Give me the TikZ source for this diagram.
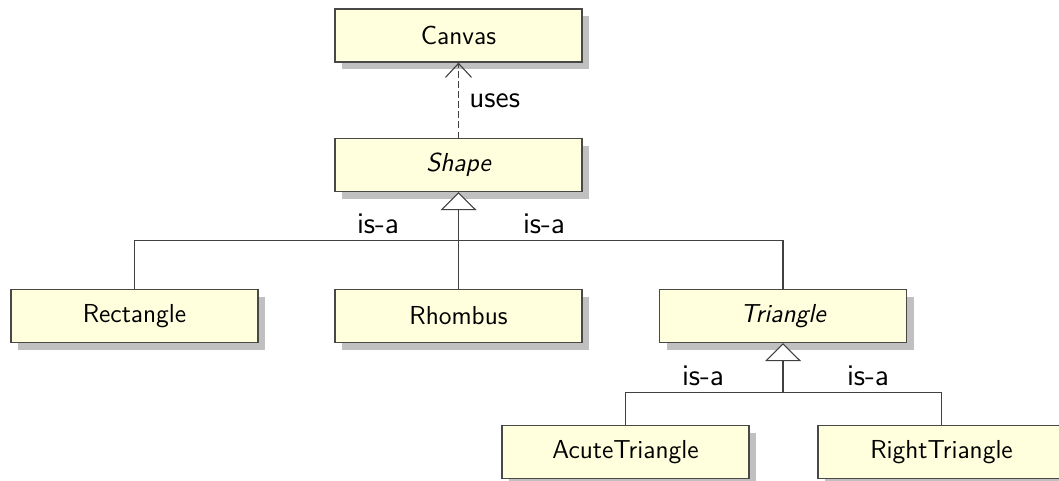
\documentclass[tikz,border=0pt]{standalone}
\usetikzlibrary{arrows.meta,shadows,calc}
\definecolor{boxfill}{RGB}{255,255,222}
\definecolor{boxline}{RGB}{72,72,72}
\definecolor{shadowgray}{RGB}{192,192,192}
\definecolor{linecol}{RGB}{64,64,64}
\begin{document}
\begin{tikzpicture}[x=0.5pt,y=-0.5pt,
  classbox/.style={draw=boxline, fill=boxfill, line width=0.6pt,
    minimum width=123.5pt, minimum height=26.5pt, inner sep=0pt,
    font=\fontsize{13}{15.6}\selectfont\sffamily,
    drop shadow={shadow xshift=3.5pt, shadow yshift=-3.5pt, fill=shadowgray, opacity=1}},
  lbl/.style={font=\fontsize{15}{18}\selectfont\sffamily, inner sep=0pt, anchor=base},
  conn/.style={draw=linecol, line width=0.55pt},
  inherit/.style={conn, -{Triangle[open, length=9pt, width=18pt, fill=white]}},
  usesarrow/.style={conn, dash pattern=on 3.2pt off 1.8pt, -{Straight Barb[length=7pt, width=13pt]}}
]
\useasboundingbox (0,0) rectangle (1059,481);
\node[classbox] (canvas) at (458.5,35.5) {Canvas};
\node[classbox] (shape) at (458.5,165) {\itshape Shape};
\node[classbox] (rect) at (134.5,316) {Rectangle};
\node[classbox] (rhombus) at (458.5,316) {Rhombus};
\node[classbox] (tri) at (783,316) {\itshape Triangle};
\node[classbox] (acute) at (625.5,452) {AcuteTriangle};
\node[classbox] (right) at (941.5,452) {RightTriangle};

\coordinate (j1) at (458.5,240.5);
\coordinate (j2) at (783,392.5);

\draw[usesarrow] (shape.north) -- (canvas.south);
\node[lbl, anchor=base west] (useslabel) at (469,108) {uses};

\draw[conn] (rect.north) |- (j1);
\draw[conn] (tri.north) |- (j1);
\draw[inherit] (rhombus.north) -- (shape.south);
\node[lbl] (isa1) at (378,233) {is-a};
\node[lbl] (isa2) at (544,233) {is-a};

\draw[conn] (acute.north) |- (j2);
\draw[conn] (right.north) |- (j2);
\draw[inherit] (j2) -- (tri.south);
\node[lbl] (isa3) at (703,385.5) {is-a};
\node[lbl] (isa4) at (868,385.5) {is-a};
\end{tikzpicture}
\end{document}
